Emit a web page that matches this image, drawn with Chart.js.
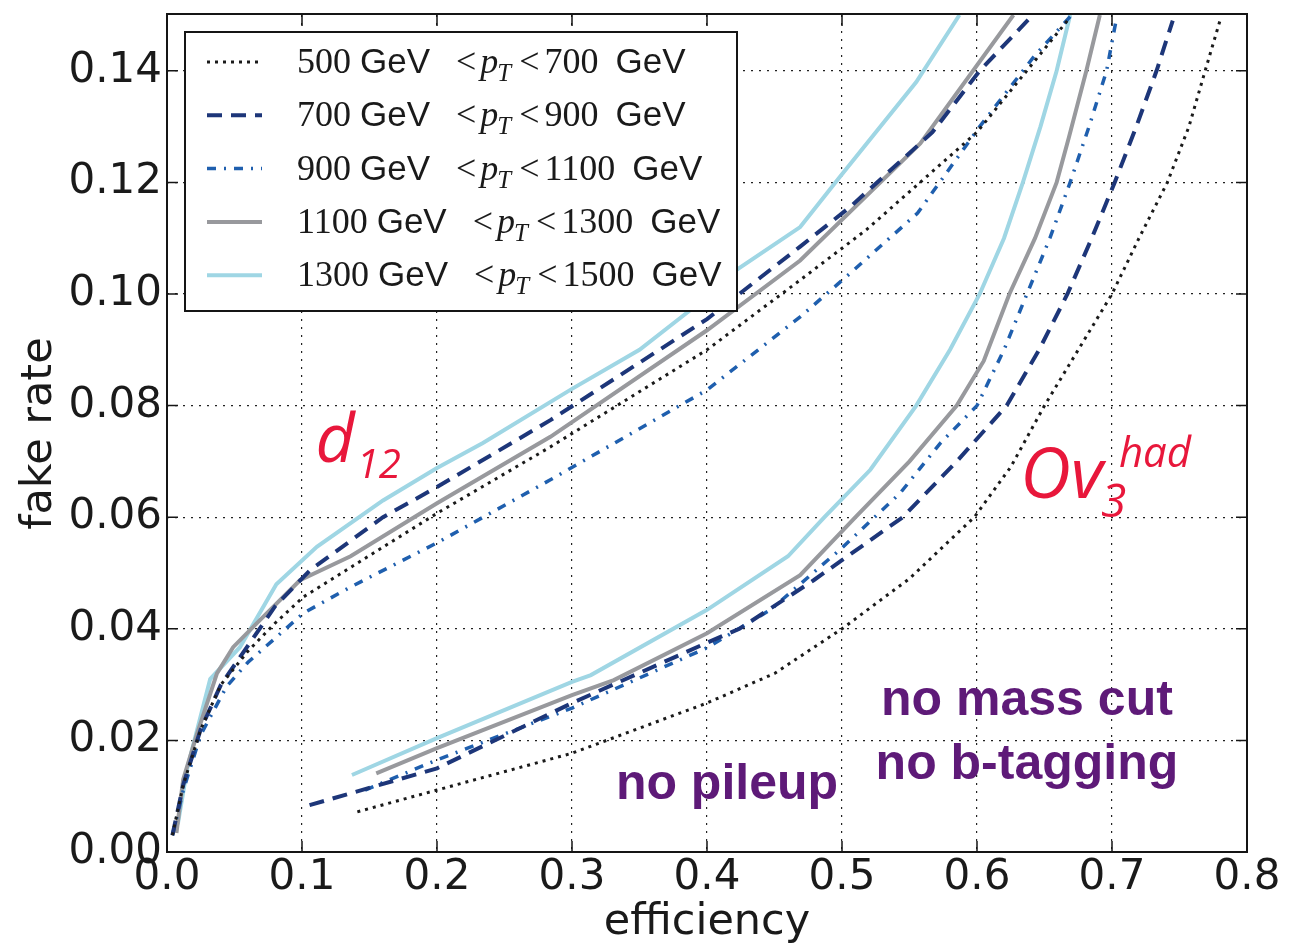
<!DOCTYPE html>
<html>
<head>
<meta charset="utf-8">
<title>fake rate vs efficiency</title>
<script src="https://cdn.jsdelivr.net/npm/chart.js@4.4.1/dist/chart.umd.min.js"></script>
<style>
  html, body { margin: 0; padding: 0; background: #fff; }
  #wrap { width: 1291px; height: 944px; }
</style>
</head>
<body>
<div id="wrap"><canvas id="rocChart" width="1291" height="944"></canvas></div>
<script>
// pT bins (GeV)
const binLow = [500, 700, 900, 1100, 1300];
const binHigh = [700, 900, 1100, 1300, 1500];

// tick values
const xTicks = [0, 0.1, 0.2, 0.3, 0.4, 0.5, 0.6, 0.7, 0.8];
const yTicks = [0, 0.02, 0.04, 0.06, 0.08, 0.10, 0.12, 0.14];

// d12 curves: [efficiency, fake rate]
const d12_500 = [[0.004,0.003],[0.012,0.012],[0.025,0.022],[0.04,0.030],[0.06,0.036],[0.08,0.041],[0.101,0.0457],[0.136,0.051],[0.2,0.0607],[0.284,0.0726],[0.4,0.090],[0.469,0.1025],[0.518,0.1115],[0.6,0.129],[0.667,0.149]];
const d12_700 = [[0.004,0.003],[0.012,0.012],[0.025,0.022],[0.04,0.030],[0.06,0.037],[0.08,0.044],[0.106,0.0505],[0.16,0.060],[0.2,0.0654],[0.284,0.0774],[0.4,0.0955],[0.469,0.1085],[0.506,0.1156],[0.567,0.129],[0.602,0.140],[0.639,0.1494]];
const d12_900 = [[0.004,0.003],[0.012,0.011],[0.025,0.021],[0.044,0.0296],[0.06,0.034],[0.081,0.0385],[0.101,0.0428],[0.136,0.0475],[0.2,0.0554],[0.284,0.0667],[0.4,0.0828],[0.469,0.0959],[0.506,0.1037],[0.556,0.1145],[0.602,0.130],[0.642,0.1425],[0.669,0.1497]];
const d12_1100 = [[0.007,0.0034],[0.012,0.013],[0.022,0.021],[0.037,0.032],[0.049,0.0367],[0.069,0.0416],[0.0985,0.0487],[0.136,0.053],[0.2,0.0625],[0.284,0.0744],[0.4,0.0935],[0.469,0.106],[0.558,0.127],[0.627,0.150]];
const d12_1300 = [[0.008,0.005],[0.015,0.015],[0.032,0.031],[0.054,0.0367],[0.081,0.048],[0.111,0.0547],[0.16,0.063],[0.2,0.0688],[0.234,0.0733],[0.3,0.083],[0.35,0.090],[0.387,0.097],[0.42,0.104],[0.469,0.112],[0.4985,0.121],[0.555,0.138],[0.587,0.150]];

// Ov3 curves: [efficiency, fake rate]
const ov3_500 = [[0.141,0.0072],[0.2,0.0111],[0.3,0.0177],[0.4,0.0267],[0.45,0.032],[0.5,0.040],[0.55,0.049],[0.598,0.060],[0.625,0.069],[0.65,0.080],[0.675,0.090],[0.7,0.100],[0.72,0.110],[0.741,0.120],[0.757,0.130],[0.769,0.140],[0.78,0.149]];
const ov3_700 = [[0.1056,0.0084],[0.2,0.015],[0.3,0.0267],[0.4,0.0375],[0.424,0.040],[0.479,0.0487],[0.5,0.0523],[0.545,0.060],[0.585,0.070],[0.622,0.080],[0.646,0.090],[0.667,0.100],[0.685,0.110],[0.702,0.120],[0.718,0.130],[0.733,0.140],[0.745,0.149]];
const ov3_900 = [[0.1467,0.0111],[0.2,0.0165],[0.3,0.0258],[0.4,0.0366],[0.447,0.0434],[0.5,0.0545],[0.543,0.0643],[0.573,0.0733],[0.6,0.080],[0.62,0.090],[0.637,0.100],[0.654,0.110],[0.669,0.120],[0.683,0.130],[0.696,0.140],[0.703,0.149]];
const ov3_1100 = [[0.155,0.0141],[0.2,0.0186],[0.3,0.0281],[0.331,0.0308],[0.4,0.0392],[0.469,0.0496],[0.51,0.060],[0.55,0.070],[0.585,0.080],[0.605,0.088],[0.624,0.100],[0.643,0.110],[0.659,0.120],[0.668,0.128],[0.681,0.140],[0.691,0.150]];
const ov3_1300 = [[0.137,0.0138],[0.2,0.0204],[0.3,0.0305],[0.314,0.0317],[0.4,0.0434],[0.46,0.053],[0.487,0.060],[0.521,0.0685],[0.555,0.080],[0.58,0.090],[0.602,0.100],[0.62,0.110],[0.634,0.120],[0.647,0.130],[0.659,0.140],[0.669,0.150]];

const d12Curves = [d12_500, d12_700, d12_900, d12_1100, d12_1300];
const ov3Curves = [ov3_500, ov3_700, ov3_900, ov3_1100, ov3_1300];

// estilos por bin
const lineColors = ['#1a1a1a', '#1d3679', '#1f5fae', '#98999d', '#9fd6e4'];
const lineDash = [[3, 5], [15, 9], [9, 8, 2, 8], [], []];
const lineWidths = [3, 4, 3.5, 4, 4];

const TICK_FONT = { family: 'DejaVu Sans', size: 42 };
const TITLE_FONT = { family: 'DejaVu Sans', size: 43 };

function makeDataset(points, i, name) {
    return {
        label: name,
        data: points.map(p => ({ x: p[0], y: p[1] })),
        borderColor: lineColors[i],
        borderDash: lineDash[i],
        borderWidth: lineWidths[i],
        borderCapStyle: 'butt',
        pointRadius: 0,
        fill: false,
        tension: 0
    };
}

const datasets = [];
binLow.forEach((lo, i) => datasets.push(makeDataset(d12Curves[i], i, `d12 ${lo}-${binHigh[i]}`)));
binLow.forEach((lo, i) => datasets.push(makeDataset(ov3Curves[i], i, `Ov3 ${lo}-${binHigh[i]}`)));

// legenda + anotações + moldura
function drawLegendRow(ctx, x, baseline, lo, hi) {
    const serif = '36px "Liberation Serif", "DejaVu Serif", serif';
    const serifIt = 'italic 36px "Liberation Serif", serif';
    const sub = 'italic 25px "Liberation Serif", serif';
    const sans = '35px "Liberation Sans", Arial, sans-serif';
    const parts = [
        [String(lo), serif, 0, 9],
        ['GeV', sans, 0, 26],
        ['<', serif, 0, 4],
        ['p', serifIt, 0, -1],
        ['T', sub, 8, 8],
        ['<', serif, 0, 5],
        [String(hi), serif, 0, 17],
        ['GeV', sans, 0, 0]
    ];
    parts.forEach(([txt, font, dy, gap]) => {
        ctx.font = font;
        ctx.fillText(txt, x, baseline + dy);
        x += ctx.measureText(txt).width + gap;
    });
}

const overlay = {
    id: 'overlay',
    afterDatasetsDraw(chart) {
        const { ctx, chartArea: a, scales: { x, y } } = chart;
        ctx.save();

        // moldura
        ctx.strokeStyle = '#151515';
        ctx.lineWidth = 2;
        ctx.setLineDash([]);
        ctx.strokeRect(a.left, a.top - 1, a.right - a.left, a.bottom - a.top + 1);

        // ticks internos
        ctx.lineWidth = 1.5;
        ctx.beginPath();
        xTicks.forEach(v => {
            const px = x.getPixelForValue(v);
            ctx.moveTo(px, a.bottom); ctx.lineTo(px, a.bottom - 11);
            ctx.moveTo(px, a.top); ctx.lineTo(px, a.top + 11);
        });
        yTicks.forEach(v => {
            const py = y.getPixelForValue(v);
            ctx.moveTo(a.left, py); ctx.lineTo(a.left + 11, py);
            ctx.moveTo(a.right, py); ctx.lineTo(a.right - 11, py);
        });
        ctx.stroke();

        // anotações
        ctx.textAlign = 'left';
        ctx.textBaseline = 'alphabetic';
        ctx.fillStyle = '#e8173b';
        let px = x.getPixelForValue(0.110);
        ctx.font = 'italic 68px "Open Sans", "Noto Sans", sans-serif';
        ctx.fillText('d', px, y.getPixelForValue(0.0699));
        px += ctx.measureText('d').width + 2;
        ctx.font = 'italic 40px "Open Sans", "Noto Sans", sans-serif';
        ctx.fillText('12', px, y.getPixelForValue(0.0670));

        px = x.getPixelForValue(0.632);
        ctx.font = 'italic 70px "Open Sans", "Noto Sans", sans-serif';
        ctx.fillText('Ov', px, y.getPixelForValue(0.0634));
        const ovW = ctx.measureText('Ov').width;
        ctx.font = 'italic 46px "Open Sans", "Noto Sans", sans-serif';
        ctx.fillText('3', px + ovW - 2, y.getPixelForValue(0.0600));
        ctx.font = 'italic 42px "Open Sans", "Noto Sans", sans-serif';
        ctx.fillText('had', px + ovW + 16, y.getPixelForValue(0.0690));

        ctx.fillStyle = '#5e1a78';
        ctx.textAlign = 'center';
        ctx.font = 'bold 50px "Liberation Sans", Arial, sans-serif';
        ctx.fillText('no pileup', x.getPixelForValue(0.4148), y.getPixelForValue(0.0095));
        ctx.fillText('no mass cut', x.getPixelForValue(0.637), y.getPixelForValue(0.0245));
        ctx.fillText('no b-tagging', x.getPixelForValue(0.637), y.getPixelForValue(0.0130));

        // legenda
        const lx = a.left + 18, ly = a.top + 17, lw = 552, lh = 279;
        ctx.fillStyle = '#fff';
        ctx.fillRect(lx, ly, lw, lh);
        ctx.strokeStyle = '#151515';
        ctx.lineWidth = 2;
        ctx.strokeRect(lx, ly, lw, lh);
        ctx.textAlign = 'left';
        binLow.forEach((lo, i) => {
            const ds = chart.data.datasets[i];
            const cy = ly + 30 + i * 53.3;
            ctx.strokeStyle = ds.borderColor;
            ctx.lineWidth = ds.borderWidth;
            ctx.setLineDash(ds.borderDash);
            ctx.beginPath();
            ctx.moveTo(lx + 22, cy);
            ctx.lineTo(lx + 77, cy);
            ctx.stroke();
            ctx.setLineDash([]);
            ctx.fillStyle = '#1a1a1a';
            drawLegendRow(ctx, lx + 112, cy + 11, lo, binHigh[i]);
        });

        ctx.restore();
    }
};

new Chart(document.getElementById('rocChart'), {
    type: 'line',
    data: { datasets: datasets },
    plugins: [overlay],
    options: {
        responsive: false,
        animation: false,
        devicePixelRatio: 1,
        layout: { padding: { top: 15, right: 44, left: 0, bottom: 0 } },
        plugins: { legend: { display: false }, tooltip: { enabled: false } },
        scales: {
            x: {
                type: 'linear',
                min: 0,
                max: 0.8,
                afterBuildTicks: axis => { axis.ticks = xTicks.map(v => ({ value: v })); },
                afterFit: axis => { axis.height = 92; axis.paddingLeft = 0; axis.paddingRight = 0; },
                ticks: {
                    font: TICK_FONT,
                    color: '#1a1a1a',
                    padding: 1,
                    maxRotation: 0,
                    autoSkip: false,
                    callback: v => v.toFixed(1)
                },
                grid: { color: '#222', lineWidth: 1.2, drawTicks: false },
                border: { display: false, dash: [2, 6] },
                title: {
                    display: true,
                    text: 'efficiency',
                    font: TITLE_FONT,
                    color: '#1a1a1a',
                    padding: { top: 0, bottom: -5 }
                }
            },
            y: {
                type: 'linear',
                min: 0,
                max: 0.15,
                afterBuildTicks: axis => { axis.ticks = yTicks.map(v => ({ value: v })); },
                afterFit: axis => { axis.width = 167; axis.paddingTop = 0; axis.paddingBottom = 0; },
                ticks: {
                    font: TICK_FONT,
                    color: '#1a1a1a',
                    padding: 5,
                    autoSkip: false,
                    callback: v => v.toFixed(2)
                },
                grid: { color: '#222', lineWidth: 1.2, drawTicks: false },
                border: { display: false, dash: [2, 6] },
                title: {
                    display: true,
                    text: 'fake rate',
                    font: TITLE_FONT,
                    color: '#1a1a1a',
                    padding: { top: 14, bottom: 0 }
                }
            }
        }
    }
});
</script>
</body>
</html>
